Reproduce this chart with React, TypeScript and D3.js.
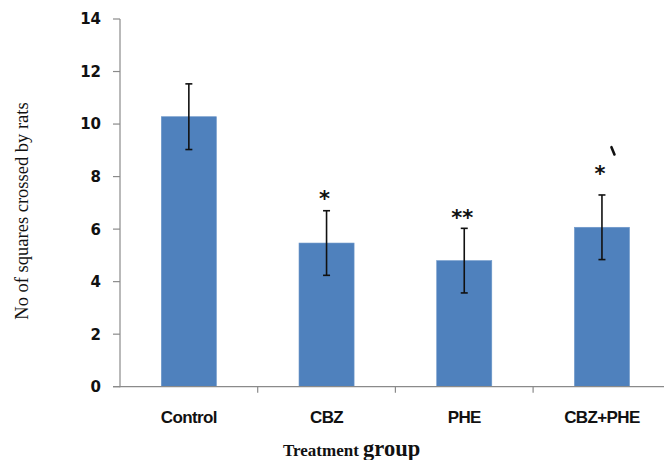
import React from 'react';
import * as d3 from 'd3';

// values
const groups = ['Control', 'CBZ', 'PHE', 'CBZ+PHE'];
const means = [10.28, 5.47, 4.8, 6.07];
const sds = [1.25, 1.23, 1.23, 1.23];
const stars = ['', '*', '**', '*'];
const starLevels = [0, 7.39, 6.65, 8.32];
const yTicks = [0, 2, 4, 6, 8, 10, 12, 14];

const W = 664;
const H = 460;
const left = 120;
const top = 19;
const bottom = 386.7;
const step = 137.7;

const App: React.FC = () => {
  const x = d3
    .scaleBand<string>()
    .domain(groups)
    .range([left, left + step * groups.length])
    .paddingInner(0.6)
    .paddingOuter(0.3);
  const y = d3.scaleLinear().domain([0, 14]).range([bottom, top]);

  const half = x.bandwidth() / 2;
  const gap = (x.step() - x.bandwidth()) / 2;
  const axisColor = '#8a8a8a';
  const lastX = x('CBZ+PHE')! + half;

  return (
    <svg
      width={W}
      height={H}
      style={{ position: 'absolute', left: 0, top: 0, background: '#fff' }}
    >
      {/* bars */}
      {groups.map((g, i) => (
        <rect
          key={g}
          x={x(g)}
          y={y(means[i])}
          width={x.bandwidth()}
          height={y(0) - y(means[i])}
          fill="#4F81BD"
          stroke="#6d97c9"
          strokeWidth={0.6}
        />
      ))}

      {/* y axis */}
      <line x1={left} x2={left} y1={y(14)} y2={y(0) + 0.5} stroke={axisColor} strokeWidth={1.2} />
      {yTicks.map((t) => (
        <g key={t}>
          <line x1={left - 7} x2={left} y1={y(t)} y2={y(t)} stroke={axisColor} strokeWidth={1.2} />
          <text
            x={101}
            y={y(t)}
            dy="0.36em"
            textAnchor="end"
            fontFamily="DejaVu Sans"
            fontWeight="bold"
            fontSize={15}
            fill="#111"
          >
            {t}
          </text>
        </g>
      ))}

      {/* x axis */}
      <line x1={left - 7} x2={W} y1={y(0)} y2={y(0)} stroke={axisColor} strokeWidth={1.2} />
      {groups.map((g) => (
        <line
          key={g}
          x1={x(g)! + x.bandwidth() + gap}
          x2={x(g)! + x.bandwidth() + gap}
          y1={y(0)}
          y2={y(0) + 6}
          stroke={axisColor}
          strokeWidth={1.2}
        />
      ))}
      {groups.map((g) => (
        <text
          key={g}
          x={x(g)! + half}
          y={423}
          textAnchor="middle"
          fontFamily="Liberation Sans"
          fontWeight="bold"
          fontSize={17}
          letterSpacing={-0.6}
          fill="#111"
        >
          {g}
        </text>
      ))}

      {/* error bars */}
      {groups.map((g, i) => {
        const cx = x(g)! + half;
        const hi = y(means[i] + sds[i]);
        const lo = y(means[i] - sds[i]);
        return (
          <g key={g} stroke="#111" strokeWidth={1.6}>
            <line x1={cx} x2={cx} y1={hi} y2={lo} />
            <line x1={cx - 3.5} x2={cx + 3.5} y1={hi} y2={hi} />
            <line x1={cx - 3.5} x2={cx + 3.5} y1={lo} y2={lo} />
          </g>
        );
      })}

      {/* significance marks */}
      {groups.map((g, i) =>
        stars[i] ? (
          <text
            key={g}
            x={x(g)! + half - 2}
            y={y(starLevels[i]) + 13}
            textAnchor="middle"
            fontFamily="DejaVu Sans"
            fontWeight="bold"
            fontSize={21}
            fill="#111"
          >
            {stars[i]}
          </text>
        ) : null
      )}
      <line
        x1={lastX + 9.5}
        y1={y(9.12)}
        x2={lastX + 12.5}
        y2={y(8.84)}
        stroke="#111"
        strokeWidth={2.6}
        strokeLinecap="round"
      />

      {/* axis titles */}
      <text
        transform="translate(28,211) rotate(-90)"
        textAnchor="middle"
        fontFamily="Liberation Serif"
        fontSize={18.5}
        fill="#111"
      >
        No of squares crossed by rats
      </text>
      <text x={283} y={456} fontFamily="Liberation Serif" fontWeight="bold" fill="#111">
        <tspan fontSize={17}>Treatment </tspan>
        <tspan fontSize={22.5}>group</tspan>
      </text>
    </svg>
  );
};

export default App;
